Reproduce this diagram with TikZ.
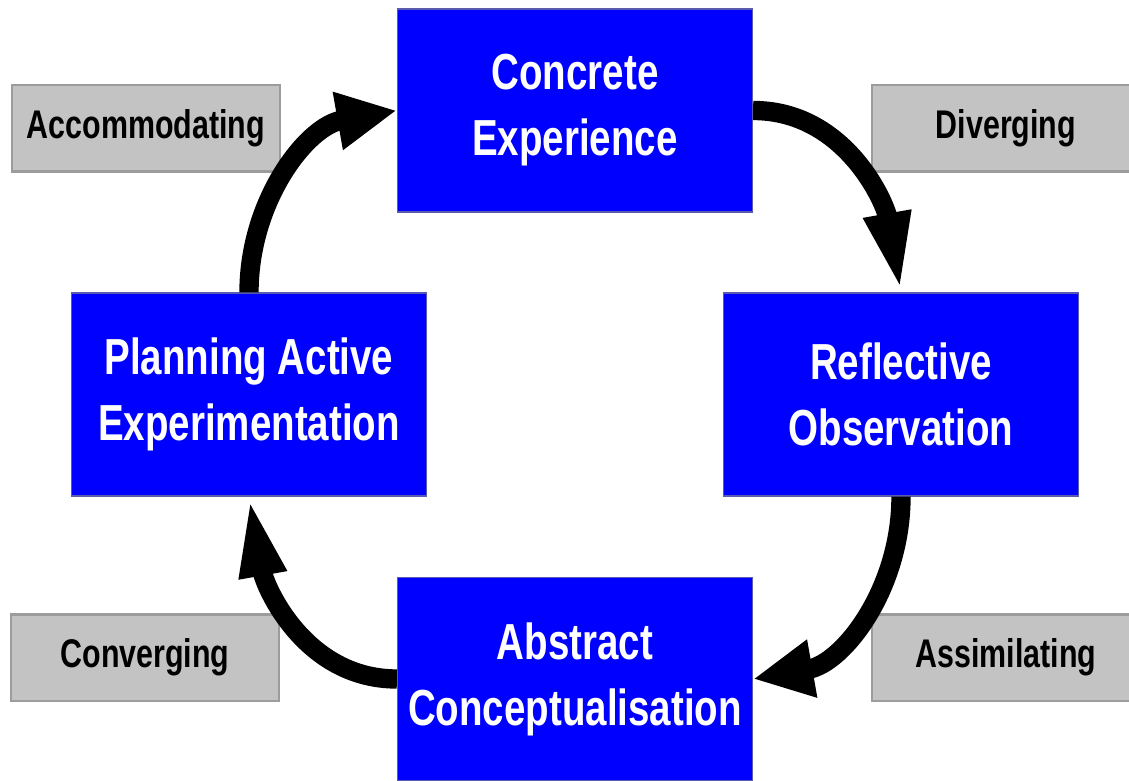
\documentclass[tikz,border=0pt]{standalone}
\usepackage{xcolor}
\usepackage{fontspec}
\setmainfont{Liberation Sans}[FakeStretch=0.76]
\usepackage{tikz}
\usetikzlibrary{arrows.meta,positioning}

\definecolor{stageblue}{HTML}{0000FF}
\definecolor{stageline}{HTML}{5A5AB0}
\definecolor{typegray}{HTML}{C3C3C3}
\definecolor{typeline}{HTML}{9C9C9C}

\newcommand{\stagefont}{\fontsize{38}{49.5}\selectfont\bfseries}
\newcommand{\typefont}{\fontsize{30}{36}\selectfont\bfseries}

\tikzset{
  stage/.style={draw=stageline, line width=1.2pt, fill=stageblue, text=white,
    font=\stagefont, align=center, inner sep=0pt,
    minimum width=266pt, minimum height=152pt},
  typebox/.style={draw=typeline, line width=2pt, fill=typegray, text=black,
    font=\typefont, inner sep=0pt, minimum width=201pt, minimum height=65pt},
  loopline/.style={line width=14.5pt, black},
  vhead/.style={-{Triangle[length=60pt,width=32pt]}},
  hhead/.style={-{Triangle[length=45pt,width=41pt]}}
}

\begin{document}
\begin{tikzpicture}[x=0.75pt,y=0.75pt]
\useasboundingbox (0,0) rectangle (1129,-781);
\clip (0,0) rectangle (1129,-781);

% Learning style labels
\foreach \nm/\x/\y/\txt in {acm/146/-128.5/Accommodating, dvg/1006/-128.5/Diverging,
                            cvg/145/-657.5/Converging, asm/1006/-657.5/Assimilating}
    \node[typebox] (\nm) at (\x,\y) {\txt};

% Stages of the cycle
\node[stage] (ce) at (575,-110.5) {Concrete\\Experience};
\node[stage] (ro) at (901,-394.5) {Reflective\\Observation};
\node[stage] (pae) at (249,-394.5) {Planning Active\\Experimentation};
\node[stage] (ac) at (575,-679) {Abstract\\Conceptualisation};

% Cycle arrows
\draw[loopline,vhead] (ce.east) to[out=0,in=100] (ro.north);
\draw[loopline,hhead] (ro.south) to[out=-90,in=10] (ac.east);
\draw[loopline,vhead] (ac.west) to[out=180,in=-80] (pae.south);
\draw[loopline,hhead] (pae.north) to[out=90,in=190] (ce.west);
\end{tikzpicture}
\end{document}
